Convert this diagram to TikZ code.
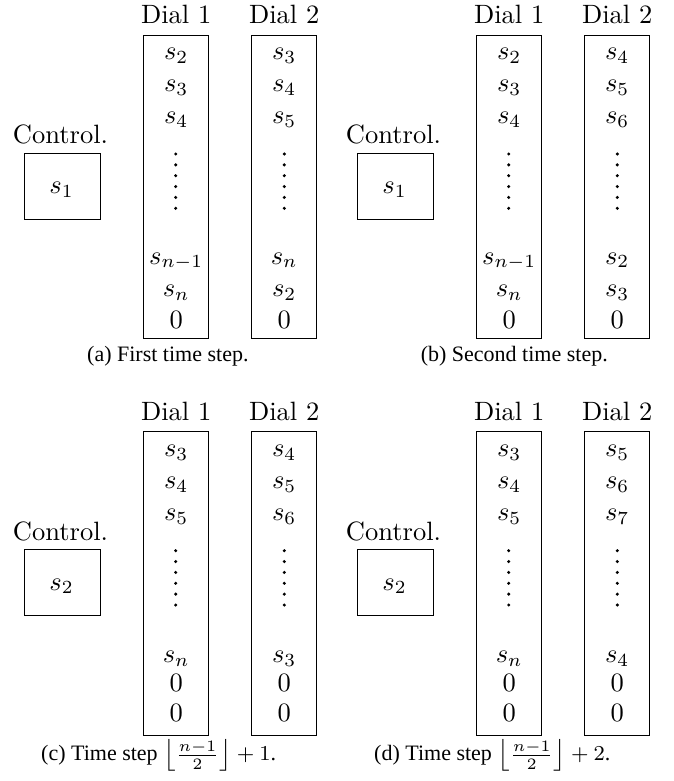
\documentclass[tikz,border=0pt]{standalone}
\usepackage{fontspec}
\newfontfamily\capfont{Liberation Serif}
\tikzset{
  hdr/.style={anchor=base,inner sep=0pt,scale=2.65,font=\fontsize{10}{12}\selectfont},
  ent/.style={anchor=base,inner sep=0pt,scale=2.65,font=\fontsize{10}{12}\selectfont},
  dialbox/.style={draw,line width=0.8pt,minimum width=65pt,minimum height=303.3pt,inner sep=0pt},
  ctrlbox/.style={draw,line width=0.8pt,minimum width=76pt,minimum height=66pt,inner sep=0pt},
  capt/.style={anchor=base west,inner sep=0pt,scale=2.65,font=\capfont\fontsize{8.3}{10}\selectfont},
  dotmark/.style={fill=black}
}
\newcommand\panelbase[4]{%
  \begin{scope}[shift={(#2,#3)}]
    \node[hdr] (#1-h1) at (176.2,24) {Dial 1};
    \node[hdr] (#1-h2) at (284.2,24) {Dial 2};
    \node[dialbox] (#1-d1) at (176.2,186.7) {};
    \node[dialbox] (#1-d2) at (284.2,186.7) {};
    \node[hdr] (#1-ct) at (60.5,143.5) {Control.};
    \node[ctrlbox] (#1-c) at (62,186) {};
    \node[ent] (#1-cv) at (61.5,193.3) {$#4$};
    \foreach \k in {0,...,5}{
      \fill[dotmark] (175.7,154+\k*10.86) circle[radius=1.7pt];
      \fill[dotmark] (284.3,154+\k*10.86) circle[radius=1.7pt];
    }
  \end{scope}}
\begin{document}
\begin{tikzpicture}[x=1pt,y=-1pt]
\useasboundingbox (0,0) rectangle (673,781);
% ---------- (a)
\panelbase{a}{0}{0}{s_1}
\begin{scope}
  \node[ent] (a-11) at (176.2,60) {$s_2$};
  \node[ent] (a-12) at (176.2,91.7) {$s_3$};
  \node[ent] (a-13) at (176.2,124) {$s_4$};
  \node[ent] (a-14) at (176.2,264) {$s_{n-1}$};
  \node[ent] (a-15) at (176.2,296.7) {$s_n$};
  \node[ent] (a-16) at (176.2,328.3) {$0$};
  \node[ent] (a-21) at (284.2,60) {$s_3$};
  \node[ent] (a-22) at (284.2,91.7) {$s_4$};
  \node[ent] (a-23) at (284.2,124) {$s_5$};
  \node[ent] (a-24) at (284.2,264) {$s_n$};
  \node[ent] (a-25) at (284.2,296.7) {$s_2$};
  \node[ent] (a-26) at (284.2,328.3) {$0$};
  \node[capt] (a-cap) at (86.7,361.7) {(a) First time step.};
\end{scope}
% ---------- (b)
\panelbase{b}{333}{0}{s_1}
\begin{scope}[shift={(333,0)}]
  \node[ent] (b-11) at (176.2,60) {$s_2$};
  \node[ent] (b-12) at (176.2,91.7) {$s_3$};
  \node[ent] (b-13) at (176.2,124) {$s_4$};
  \node[ent] (b-14) at (176.2,264) {$s_{n-1}$};
  \node[ent] (b-15) at (176.2,296.7) {$s_n$};
  \node[ent] (b-16) at (176.2,328.3) {$0$};
  \node[ent] (b-21) at (284.2,60) {$s_4$};
  \node[ent] (b-22) at (284.2,91.7) {$s_5$};
  \node[ent] (b-23) at (284.2,124) {$s_6$};
  \node[ent] (b-24) at (284.2,264) {$s_2$};
  \node[ent] (b-25) at (284.2,296.7) {$s_3$};
  \node[ent] (b-26) at (284.2,328.3) {$0$};
  \node[capt] (b-cap) at (87.3,361.7) {(b) Second time step.};
\end{scope}
% ---------- (c)
\panelbase{c}{0}{396.7}{s_2}
\begin{scope}[shift={(0,396.7)}]
  \node[ent] (c-11) at (176.2,60) {$s_3$};
  \node[ent] (c-12) at (176.2,91.5) {$s_4$};
  \node[ent] (c-13) at (176.2,123.8) {$s_5$};
  \node[ent] (c-14) at (176.2,265.7) {$s_n$};
  \node[ent] (c-15) at (176.2,294.9) {$0$};
  \node[ent] (c-16) at (176.2,324.9) {$0$};
  \node[ent] (c-21) at (284.2,60) {$s_4$};
  \node[ent] (c-22) at (284.2,91.5) {$s_5$};
  \node[ent] (c-23) at (284.2,123.8) {$s_6$};
  \node[ent] (c-24) at (284.2,265.7) {$s_3$};
  \node[ent] (c-25) at (284.2,294.9) {$0$};
  \node[ent] (c-26) at (284.2,324.9) {$0$};
  \node[capt] (c-cap) at (40.7,364) {(c) Time step $\left\lfloor\frac{n-1}{2}\right\rfloor+1$.};
\end{scope}
% ---------- (d)
\panelbase{d}{333}{396.7}{s_2}
\begin{scope}[shift={(333,396.7)}]
  \node[ent] (d-11) at (176.2,60) {$s_3$};
  \node[ent] (d-12) at (176.2,91.5) {$s_4$};
  \node[ent] (d-13) at (176.2,123.8) {$s_5$};
  \node[ent] (d-14) at (176.2,265.7) {$s_n$};
  \node[ent] (d-15) at (176.2,294.9) {$0$};
  \node[ent] (d-16) at (176.2,324.9) {$0$};
  \node[ent] (d-21) at (284.2,60) {$s_5$};
  \node[ent] (d-22) at (284.2,91.5) {$s_6$};
  \node[ent] (d-23) at (284.2,123.8) {$s_7$};
  \node[ent] (d-24) at (284.2,265.7) {$s_4$};
  \node[ent] (d-25) at (284.2,294.9) {$0$};
  \node[ent] (d-26) at (284.2,324.9) {$0$};
  \node[capt] (d-cap) at (40.7,364) {(d) Time step $\left\lfloor\frac{n-1}{2}\right\rfloor+2$.};
\end{scope}
\end{tikzpicture}
\end{document}
